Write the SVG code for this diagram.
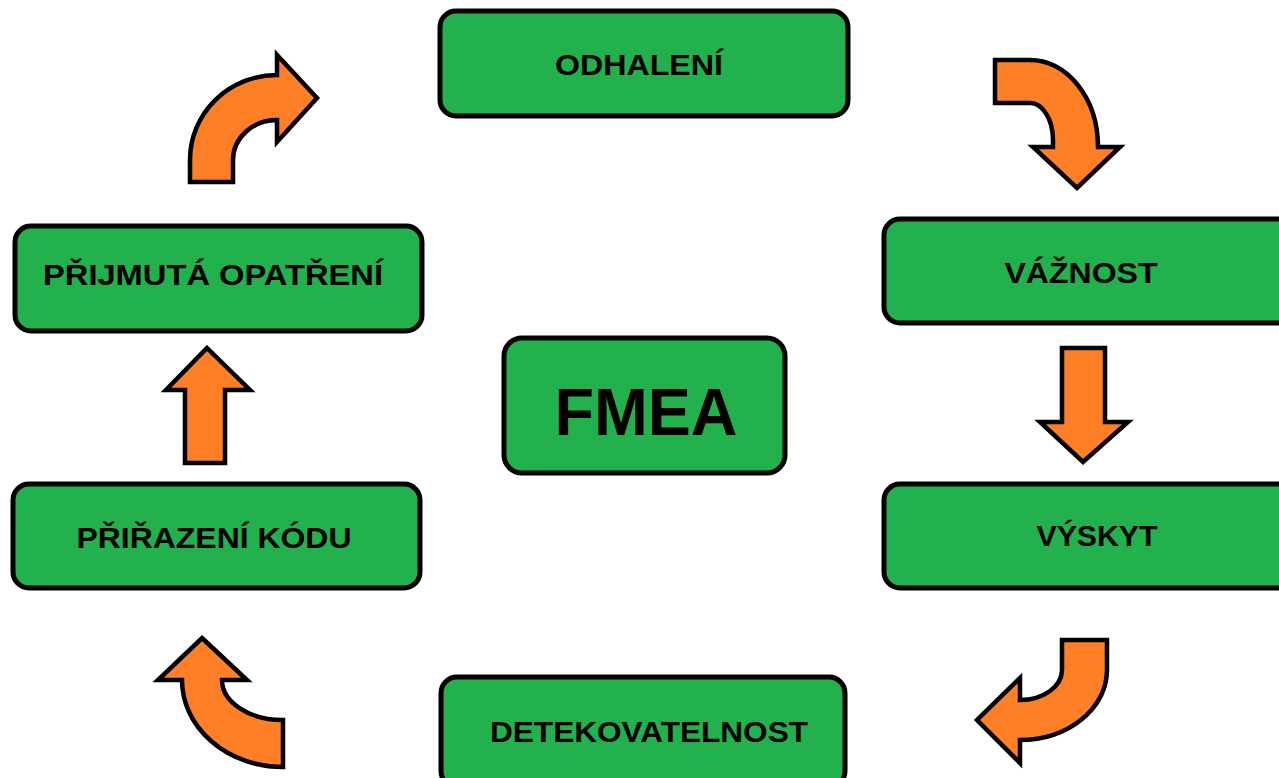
<svg xmlns="http://www.w3.org/2000/svg" width="1279" height="778" viewBox="0 0 1279 778">
<style>
.box{fill:#22B14C;stroke:#000;stroke-width:5}
.lbl{font-family:"Liberation Sans",Arial,sans-serif;font-weight:bold;font-size:29px;fill:#000;text-anchor:middle}
.big{font-size:66px}
.arr{fill:#FF7F27;stroke:#000;stroke-width:4.5;stroke-linejoin:miter}
</style>
<rect width="1279" height="778" fill="#fff"/>
<g id="connectors">
<path class="arr" d="M190,182 L190,160 A87 85 0 0 1 277,75 L277,55 L317,98 L277,142 L277,120 A44 40 0 0 0 233,160 L233,182 Z"/>
<path class="arr" d="M995,60 L1030,60 A68 87 0 0 1 1098,147 L1120,147 L1077,188 L1033,147 L1053,147 L1053,140 A23 37 0 0 0 1030,103 L995,103 Z"/>
<path class="arr" d="M1062,348 L1105,348 L1105,422 L1128,422 L1083,462 L1040,422 L1062,422 Z"/>
<path class="arr" d="M1062,640 L1107,640 L1107,670 A87 70 0 0 1 1020,740 L1020,763 L977,720 L1020,678 L1020,700 A42 30 0 0 0 1062,670 Z"/>
<path class="arr" d="M202,638 L247,680 L222,680 A61 40 0 0 0 283,720 L283,767 A101 87 0 0 1 182,680 L158,680 Z"/>
<path class="arr" d="M207,348 L250,390 L225,390 L225,463 L185,463 L185,390 L166,390 Z"/>
</g>
<g id="odhaleni">
<rect class="box" x="440" y="11" width="408" height="105" rx="16"/>
<text class="lbl" x="639" y="75" textLength="168" lengthAdjust="spacingAndGlyphs">ODHALENÍ</text>
</g>
<g id="vaznost">
<rect class="box" x="884" y="219" width="410" height="104" rx="16"/>
<text class="lbl" x="1081" y="283" textLength="153" lengthAdjust="spacingAndGlyphs">VÁŽNOST</text>
</g>
<g id="vyskyt">
<rect class="box" x="884" y="484" width="410" height="104" rx="16"/>
<text class="lbl" x="1097" y="546" textLength="121" lengthAdjust="spacingAndGlyphs">VÝSKYT</text>
</g>
<g id="detekovatelnost">
<rect class="box" x="441" y="677" width="404" height="110" rx="16"/>
<text class="lbl" x="649" y="742" textLength="318" lengthAdjust="spacingAndGlyphs">DETEKOVATELNOST</text>
</g>
<g id="prirazeni">
<rect class="box" x="13" y="484" width="407" height="104" rx="16"/>
<text class="lbl" x="214" y="548" textLength="275" lengthAdjust="spacingAndGlyphs">PŘIŘAZENÍ KÓDU</text>
</g>
<g id="prijmuta">
<rect class="box" x="15" y="226" width="407" height="105" rx="16"/>
<text class="lbl" x="213" y="285" textLength="340" lengthAdjust="spacingAndGlyphs">PŘIJMUTÁ OPATŘENÍ</text>
</g>
<g id="fmea">
<rect class="box" x="504" y="338" width="281" height="135" rx="18"/>
<text class="lbl big" x="646" y="435" textLength="183" lengthAdjust="spacingAndGlyphs">FMEA</text>
</g>
</svg>
